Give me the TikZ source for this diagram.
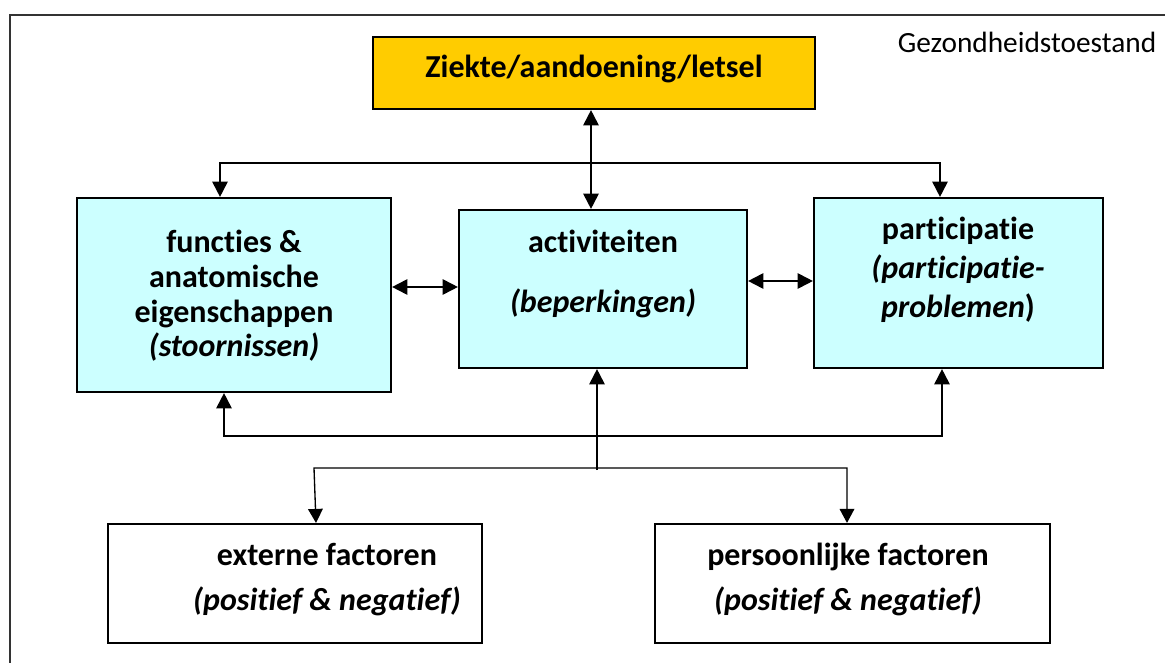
\documentclass[tikz,border=0pt]{standalone}
\usepackage{fontspec}
\setmainfont{Carlito}[Ligatures={NoCommon}]
\usetikzlibrary{arrows.meta}
\definecolor{zkfill}{HTML}{FFCC00}
\definecolor{bluefill}{HTML}{CCFFFF}
\definecolor{framegray}{HTML}{333333}
\tikzset{
  box/.style 2 args={draw=black, line width=1.6pt, inner sep=0pt,
    minimum width=#1*0.75pt, minimum height=#2*0.75pt},
  lbl/.style={font=\fontsize{24}{26.25}\selectfont\bfseries, align=center, anchor=base, inner sep=0pt},
  conn/.style={line width=1.4pt, >={Triangle[length=11.5pt,width=11.5pt]}},
  thinconn/.style={line width=1pt, >={Triangle[length=10.5pt,width=11pt]}},
}
\begin{document}
\begin{tikzpicture}[x=0.75pt,y=-0.75pt]
\clip (0,0) rectangle (1165,663);
% outer frame (top and left edge visible)
\draw[framegray, line width=1.3pt] (10,680) -- (10,15) -- (1180,15);

% boxes
\node[box={442}{72}, fill=zkfill] (zk) at (594,73) {};
\node[box={314}{194}, fill=bluefill] (fun) at (234,295) {};
\node[box={288}{158}, fill=bluefill] (act) at (603,289) {};
\node[box={289}{170}, fill=bluefill] (par) at (958.5,283) {};
\node[box={374}{119}] (ext) at (295,583.5) {};
\node[box={395}{119}] (per) at (852.5,583.5) {};

% texts (anchor=base refers to the last line)
\node[lbl] (zkT) at (594,78) {Ziekte/aandoening/letsel};
\node[font=\fontsize{22}{24}\selectfont, anchor=base, inner sep=0pt] (gz) at (1027,53) {Gezondheidstoestand};
\node[lbl] (funT) at (234,357) {functies \&\\anatomische\\eigenschappen\\\textit{(stoornissen)}};
\node[lbl] (actT) at (603,313) {activiteiten\\[19.5pt]\textit{(beperkingen)}};
\node[lbl, font=\fontsize{24}{28.9}\selectfont\bfseries] (parT) at (958,317) {participatie\\\textit{(participatie-}\\\textit{problemen})};
\node[lbl, font=\fontsize{24}{33.75}\selectfont\bfseries] (extT) at (327,610) {externe factoren\\\textit{(positief \& negatief)}};
\node[lbl, font=\fontsize{24}{33.75}\selectfont\bfseries] (perT) at (848,610) {persoonlijke factoren\\\textit{(positief \& negatief)}};

% connectors
\coordinate (t1) at ([xshift=-2.25pt]zk.south);
\draw[conn,<->] (t1) -- (t1 |- act.north);

\coordinate (topL) at (220,163);
\coordinate (topR) at (940,163);
\draw[conn,<->] (topL |- fun.north) -- (topL) -- (topR) -- (topR |- par.north);

\coordinate (m1) at (425,287);
\draw[conn,<->] (m1 -| fun.east) -- (m1 -| act.west);
\coordinate (m2) at (780,281);
\draw[conn,<->] (m2 -| act.east) -- (m2 -| par.west);

\coordinate (botL) at (224,436);
\coordinate (botR) at (942,436);
\draw[conn,<->] (botL |- fun.south) -- (botL) -- (botR) -- (botR |- par.south);

\coordinate (j) at (597,470);
\draw[conn,->] (j) -- (j |- act.south);

\coordinate (ftL) at (314,468);
\coordinate (ftLx) at (316,468);
\coordinate (ftR) at (847,468);
\draw[thinconn,<->] (ftLx |- ext.north) -- (ftL) -- (ftR) -- (ftR |- per.north);
\end{tikzpicture}
\end{document}
